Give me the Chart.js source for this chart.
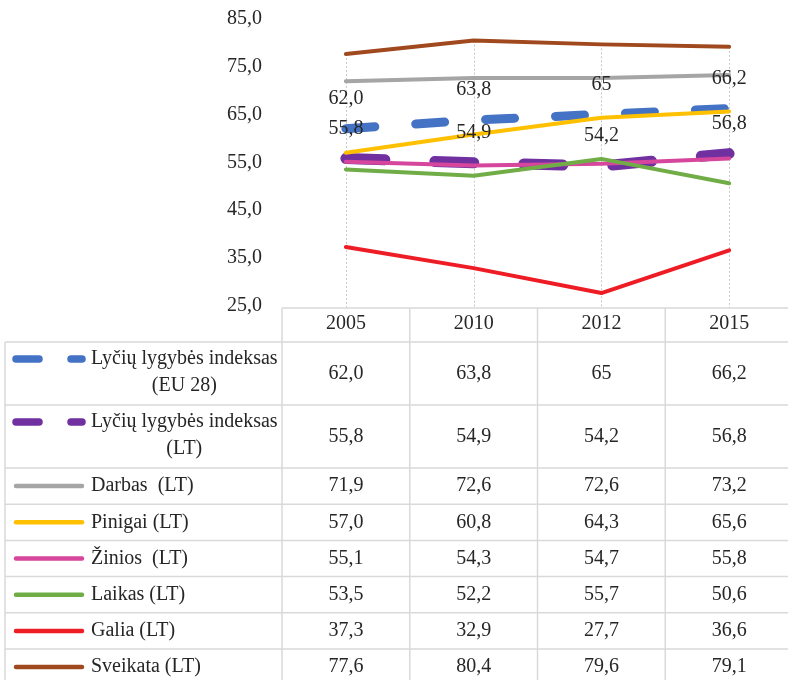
<!DOCTYPE html>
<html><head><meta charset="utf-8">
<script src="https://cdn.jsdelivr.net/npm/chart.js@4.4.0/dist/chart.umd.min.js"></script>
<style>html,body{margin:0;padding:0;background:#fff;overflow:hidden}
#wrap{width:788px;height:680px;overflow:hidden;position:relative;background:#fff}
canvas{display:block}</style></head>
<body><div id="wrap"><canvas id="c" width="800" height="690"></canvas></div>
<script>
const categories = ['2005', '2010', '2012', '2015'];
const yTickValues = [25, 35, 45, 55, 65, 75, 85];
const euIndex = [62.0, 63.8, 65, 66.2];
const euIndexText = ['62,0', '63,8', '65', '66,2'];
const ltIndex = [55.8, 54.9, 54.2, 56.8];
const darbas = [71.9, 72.6, 72.6, 73.2];
const pinigai = [57.0, 60.8, 64.3, 65.6];
const zinios = [55.1, 54.3, 54.7, 55.8];
const laikas = [53.5, 52.2, 55.7, 50.6];
const galia = [37.3, 32.9, 27.7, 36.6];
const sveikata = [77.6, 80.4, 79.6, 79.1];
const seriesNames = [
  ['Lyčių lygybės indeksas', '(EU 28)'],
  ['Lyčių lygybės indeksas', '(LT)'],
  ['Darbas  (LT)'],
  ['Pinigai (LT)'],
  ['Žinios  (LT)'],
  ['Laikas (LT)'],
  ['Galia (LT)'],
  ['Sveikata (LT)']
];
const seriesValues = [euIndex, ltIndex, darbas, pinigai, zinios, laikas, galia, sveikata];
const seriesColors = ['#4472C4', '#7030A0', '#A5A5A5', '#FFC000', '#D5469C', '#70AD47', '#EE1C24', '#A0481E'];

const FONT = '"Liberation Serif", "Times New Roman", serif';
const TEXT = '#262626';
const fmt = v => v.toFixed(1).replace('.', ',');
const cellText = (si, i) => si === 0 ? euIndexText[i] : fmt(seriesValues[si][i]);

const styleFor = si => {
  if (si === 0) return { width: 9, dash: [29, 41] };
  if (si === 1) return { width: 11, dash: [39, 50] };
  return { width: 4, dash: [] };
};

const datasets = seriesValues.map((vals, si) => {
  const st = styleFor(si);
  return {
    label: seriesNames[si].join(' '),
    data: vals,
    borderColor: seriesColors[si],
    backgroundColor: seriesColors[si],
    borderWidth: st.width,
    borderDash: st.dash,
    borderCapStyle: 'round',
    borderJoinStyle: 'round',
    pointRadius: 0,
    pointHoverRadius: 0,
    pointBorderWidth: 0,
    pointHitRadius: 0,
    tension: 0,
    fill: false,
    clip: false,
    order: seriesValues.length - 1 - si
  };
});

const dropLines = {
  id: 'dropLines',
  beforeDatasetsDraw(chart) {
    const { ctx, chartArea, scales } = chart;
    ctx.save();
    ctx.strokeStyle = '#C8C8C8';
    ctx.lineWidth = 1;
    ctx.setLineDash([2, 2]);
    categories.forEach((c, i) => {
      const top = Math.max(...seriesValues.map(s => s[i]));
      const x = Math.round(scales.x.getPixelForValue(i)) + 0.5;
      ctx.beginPath();
      ctx.moveTo(x, scales.y.getPixelForValue(top));
      ctx.lineTo(x, chartArea.bottom + 2);
      ctx.stroke();
    });
    ctx.restore();
  }
};

const pointLabels = {
  id: 'pointLabels',
  afterDatasetsDraw(chart) {
    const { ctx, scales } = chart;
    ctx.save();
    ctx.font = '20px ' + FONT;
    ctx.fillStyle = TEXT;
    ctx.textAlign = 'center';
    ctx.textBaseline = 'middle';
    [0, 1].forEach(si => {
      seriesValues[si].forEach((v, i) => {
        const x = scales.x.getPixelForValue(i);
        const y = scales.y.getPixelForValue(v) - 30;
        ctx.fillText(cellText(si, i), x, y);
      });
    });
    ctx.restore();
  }
};

const dataTable = {
  id: 'dataTable',
  afterDraw(chart) {
    const { ctx, chartArea } = chart;
    const n = categories.length;
    const band = (chartArea.right - chartArea.left) / n;
    const colX = i => chartArea.left + band * i;
    const headTop = chartArea.bottom + 2;
    const headBottom = headTop + 34;
    const rows = [];
    let y = headBottom;
    seriesNames.forEach(lines => {
      const h = lines.length > 1 ? 63 : 36.2;
      rows.push({ top: y, h });
      y += h;
    });
    const tableLeft = 5;
    const bottom = y;

    ctx.save();
    ctx.strokeStyle = '#D9D9D9';
    ctx.lineWidth = 1.5;
    ctx.setLineDash([]);
    ctx.beginPath();
    ctx.moveTo(chartArea.left, headTop); ctx.lineTo(chartArea.right, headTop);
    rows.forEach(r => { ctx.moveTo(tableLeft, r.top); ctx.lineTo(chartArea.right, r.top); });
    ctx.moveTo(tableLeft, bottom); ctx.lineTo(chartArea.right, bottom);
    ctx.moveTo(tableLeft, headBottom); ctx.lineTo(tableLeft, bottom);
    for (let i = 0; i <= n; i++) { ctx.moveTo(colX(i), headTop); ctx.lineTo(colX(i), bottom); }
    ctx.stroke();

    ctx.font = '20px ' + FONT;
    ctx.fillStyle = TEXT;
    ctx.textBaseline = 'middle';
    ctx.textAlign = 'center';
    categories.forEach((c, i) => ctx.fillText(c, colX(i) + band / 2, (headTop + headBottom) / 2 - 1));

    rows.forEach((r, si) => {
      const lines = seriesNames[si];
      const mid = r.top + r.h / 2;
      const firstY = lines.length > 1 ? r.top + 17 : mid;
      ctx.strokeStyle = seriesColors[si];
      ctx.lineCap = 'round';
      if (si < 2) {
        ctx.lineWidth = 7.5;
        ctx.beginPath();
        ctx.moveTo(16, firstY); ctx.lineTo(39, firstY);
        ctx.moveTo(71, firstY); ctx.lineTo(82, firstY);
        ctx.stroke();
      } else {
        ctx.lineWidth = 4.5;
        ctx.beginPath();
        ctx.moveTo(16, firstY); ctx.lineTo(82, firstY);
        ctx.stroke();
      }
      ctx.textAlign = 'left';
      ctx.fillText(lines[0], 91, firstY);
      if (lines.length > 1) {
        const w = ctx.measureText(lines[0]).width;
        ctx.textAlign = 'center';
        ctx.fillText(lines[1], 91 + w / 2, r.top + 44);
      }
      ctx.textAlign = 'center';
      categories.forEach((c, i) => ctx.fillText(cellText(si, i), colX(i) + band / 2, mid));
    });
    ctx.restore();
  }
};

new Chart(document.getElementById('c'), {
  type: 'line',
  data: { labels: categories, datasets },
  options: {
    responsive: false,
    animation: false,
    devicePixelRatio: 1,
    layout: { autoPadding: false, padding: { left: 0, right: 7, top: 18.5, bottom: 384 } },
    plugins: { legend: { display: false }, tooltip: { enabled: false } },
    events: [],
    scales: {
      x: {
        type: 'category',
        offset: true,
        grid: { display: false, drawTicks: false },
        border: { display: false },
        ticks: { display: false },
        afterFit(s) { s.height = 0; s.paddingLeft = 0; s.paddingRight = 0; }
      },
      y: {
        min: 25,
        max: 85,
        afterBuildTicks(s) { s.ticks = yTickValues.map(v => ({ value: v })); },
        grid: { display: false, drawTicks: false },
        border: { display: false },
        ticks: {
          padding: 20,
          color: TEXT,
          font: { family: FONT, size: 20 },
          callback: v => fmt(v)
        },
        afterFit(s) { s.width = 282; s.paddingTop = 0; s.paddingBottom = 0; }
      }
    }
  },
  plugins: [dropLines, pointLabels, dataTable]
});
</script>
</body></html>
